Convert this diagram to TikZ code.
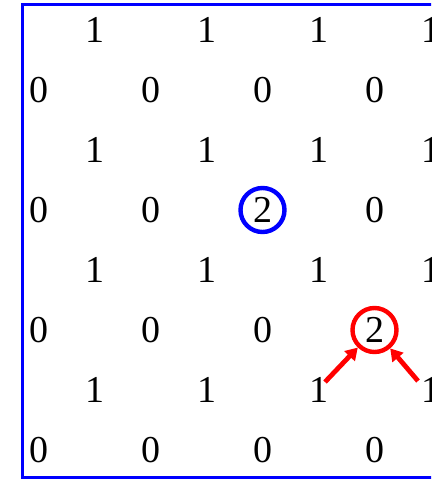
\documentclass[tikz,border=0pt]{standalone}
\usepackage{fontspec}
\setmainfont{Liberation Serif}
\usetikzlibrary{arrows.meta}
\begin{document}
\begin{tikzpicture}[x=1pt,y=-1pt,
  num/.style={inner sep=0pt,font=\fontsize{38}{40}\selectfont},
  ring/.style={num,circle,draw=#1,line width=4.4pt,minimum size=44pt},
  redarrow/.style={draw=red,line width=4.8pt,-{Triangle[length=12pt,width=14pt]}}]
\clip (0,0) rectangle (431,479);
\draw[blue,line width=3pt] (22.5,4.5) rectangle (520,477);
% rows of 1s (odd rows) and 0s (even rows)
\foreach \r/\y in {1/30,3/150,5/270,7/390}{
  \foreach \c/\x in {1/94.5,2/206.5,3/318.5,4/430.5}{
    \node[num] (n\r-\c) at (\x,\y) {1};
  }
}
\foreach \r/\y in {2/90,6/330,8/450}{
  \foreach \c/\x in {1/38.5,2/150.5,3/262.5}{
    \node[num] (z\r-\c) at (\x,\y) {0};
  }
}
\node[num] (z2-4) at (374.5,90) {0};
\node[num] (z8-4) at (374.5,450) {0};
\node[num] (z4-1) at (38.5,210) {0};
\node[num] (z4-2) at (150.5,210) {0};
\node[ring=blue] (b2) at (262.5,210) {2};
\node[num] (z4-4) at (374.5,210) {0};
\node[ring=red] (r2) at (374.5,330) {2};
\coordinate (a1) at (325,382);
\coordinate (a2) at (418,381);
\draw[redarrow] (a1) -- (r2);
\draw[redarrow] (a2) -- (r2);
\end{tikzpicture}
\end{document}
